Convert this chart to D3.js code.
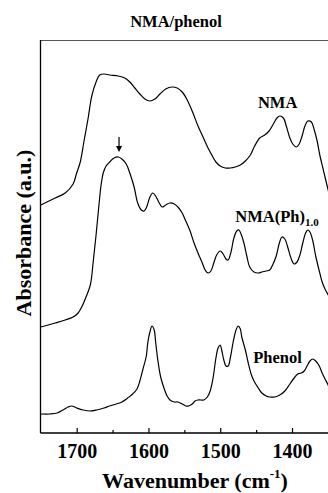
<!DOCTYPE html>
<html>
<head>
<meta charset="utf-8">
<script src="https://cdn.jsdelivr.net/npm/d3@7"></script>
<style>
html, body { margin: 0; padding: 0; background: #fff; }
svg { display: block; }
text { font-family: "Liberation Serif", "Times New Roman", serif; font-weight: bold; fill: #000; }
</style>
</head>
<body>
<svg id="chart" width="328" height="493"></svg>
<script>
// ---- Data (wavenumber in cm^-1, absorbance in arbitrary offset units) ----
const title = "NMA/phenol";
const xTicks = [1700, 1600, 1500, 1400];
const xMinorTicks = [1650, 1550, 1450];
const xDomain = [1750, 1350];
const yDomain = [0, 393];

const nmaWave = [1750,1730,1716,1705,1700,1695,1690,1684,1679,1673,1668,1662,1654,1642,1633,1626,1619,1612,1605,1598,1591,1584,1576,1567,1560,1553,1546,1538,1531,1524,1517,1511,1506,1500,1493,1486,1479,1472,1465,1458,1452,1445,1438,1432,1426,1421,1417,1412,1408,1403,1399,1394,1390,1386,1382,1378,1373,1369,1365,1361,1357,1354,1351,1348];
const nmaAbs  = [228,235,240,249,260,271,291,315,337,351,358,359,358,357,355,351,345,339,334,332,334,339,344,346,345,341,333,320,307,296,285,277,271,267,265,265,266,268,272,278,287,295,298,302,309,315,317,315,307,295,289,286,289,297,307,312,311,303,292,277,265,256,247,238];

const phWave = [1750,1730,1716,1705,1698,1693,1687,1681,1677,1673,1669,1666,1663,1659,1654,1648,1642,1637,1631,1626,1620,1615,1610,1606,1602,1598,1594,1590,1585,1581,1576,1570,1564,1559,1553,1548,1542,1537,1531,1525,1521,1517,1513,1509,1505,1500,1496,1492,1489,1485,1481,1477,1474,1471,1467,1463,1459,1453,1447,1442,1436,1431,1427,1422,1418,1414,1410,1406,1401,1397,1393,1389,1385,1381,1378,1375,1371,1367,1362,1358,1354,1351,1348];
const phAbs  = [106,110,113,116,120,126,136,148,171,198,228,248,260,267,271,275,276,274,269,260,246,230,223,222,227,236,240,237,230,226,228,230,229,226,220,212,202,191,180,170,163,160,162,170,178,182,179,174,173,181,195,202,203,199,190,177,166,161,160,161,162,163,168,177,189,196,194,186,174,169,171,178,190,200,203,201,192,177,162,151,144,140,136];

const phenolWave = [1750,1737,1727,1719,1712,1707,1700,1691,1681,1672,1662,1654,1645,1637,1629,1622,1616,1612,1608,1603,1601,1598,1595,1592,1590,1587,1583,1578,1574,1570,1564,1559,1553,1548,1544,1539,1535,1531,1527,1523,1518,1514,1510,1506,1503,1500,1498,1495,1492,1489,1486,1482,1478,1475,1472,1470,1465,1461,1457,1453,1447,1442,1436,1431,1424,1417,1410,1403,1397,1392,1387,1383,1379,1375,1371,1367,1362,1358,1354,1351,1348];
const phenolAbs  = [19,19,20,23,26,27,25,23,22,23,25,27,29,31,35,39,44,52,63,77,90,101,107,103,91,73,56,44,37,33,31,31,29,27,27,29,32,33,33,33,36,42,55,75,85,88,83,73,67,67,75,91,103,107,104,96,83,70,59,52,45,40,37,36,36,38,42,49,55,59,60,62,67,72,74,72,67,60,54,50,45];

const seriesNames = ["NMA", "NMA(Ph)", "Phenol"];
const labelSub = "1.0";
const arrowWave = 1641;
const arrowAbs = [296, 281];
const labelPos = [[1420, 325], [1479, 211], [1454, 70]];

// ---- Drawing ----
const svg = d3.select("#chart");
const M = { left: 40.5, right: 328, top: 40, bottom: 433 };
const x = d3.scaleLinear().domain(xDomain).range([40.8, 327.9]);
const y = d3.scaleLinear().domain(yDomain).range([M.bottom, M.top]);

const clip = svg.append("clipPath").attr("id", "clip")
  .append("rect").attr("x", M.left).attr("y", M.top).attr("width", 330 - M.left).attr("height", M.bottom - M.top);

// frame
svg.append("line").attr("x1", M.left).attr("x2", 330).attr("y1", M.top + 0.5).attr("y2", M.top + 0.5)
  .attr("stroke", "#555").attr("stroke-width", 1);
svg.append("line").attr("x1", M.left).attr("x2", M.left).attr("y1", M.top).attr("y2", M.bottom)
  .attr("stroke", "#000").attr("stroke-width", 1.3);

// bottom axis with inward ticks
const axis = d3.axisBottom(x).tickValues(xTicks).tickSize(-5).tickPadding(10).tickFormat(d3.format("d"));
const gx = svg.append("g").attr("transform", `translate(0,${M.bottom})`).call(axis);
gx.select(".domain").attr("stroke-width", 1.3).attr("d", `M${M.left},0H330`);
gx.selectAll(".tick line").attr("stroke-width", 1.2);
gx.selectAll(".tick text").attr("font-size", 20).attr("font-family", "Liberation Serif, serif")
  .attr("font-weight", "bold").attr("dy", "0.71em").attr("y", 11);
const axisMinor = d3.axisBottom(x).tickValues(xMinorTicks).tickSize(-3).tickFormat("");
const gm = svg.append("g").attr("transform", `translate(0,${M.bottom})`).call(axisMinor);
gm.select(".domain").remove();
gm.selectAll(".tick line").attr("stroke-width", 1.2);

// curves
const line = d3.line().x(d => x(d[0])).y(d => y(d[1])).curve(d3.curveCatmullRom.alpha(0.5));
const series = [
  d3.zip(nmaWave, nmaAbs),
  d3.zip(phWave, phAbs),
  d3.zip(phenolWave, phenolAbs)
];
svg.append("g").attr("clip-path", "url(#clip)")
  .selectAll("path").data(series).join("path")
  .attr("d", line).attr("fill", "none").attr("stroke", "#000").attr("stroke-width", 1.2);

// arrow
svg.append("line").attr("x1", x(arrowWave)).attr("x2", x(arrowWave))
  .attr("y1", y(arrowAbs[0])).attr("y2", y(arrowAbs[1]) - 5)
  .attr("stroke", "#000").attr("stroke-width", 1.2);
svg.append("path")
  .attr("d", `M${x(arrowWave) - 3},${y(arrowAbs[1]) - 6}L${x(arrowWave) + 3},${y(arrowAbs[1]) - 6}L${x(arrowWave)},${y(arrowAbs[1])}Z`)
  .attr("fill", "#000");

// labels
svg.append("text").attr("x", x(labelPos[0][0])).attr("y", y(labelPos[0][1]))
  .attr("text-anchor", "middle").attr("font-size", 16.5).text(seriesNames[0]);
const t2 = svg.append("text").attr("x", x(labelPos[1][0])).attr("y", y(labelPos[1][1])).attr("font-size", 16.5);
t2.append("tspan").text(seriesNames[1]);
t2.append("tspan").attr("font-size", 11).attr("dy", 4).text(labelSub);
svg.append("text").attr("x", x(labelPos[2][0])).attr("y", y(labelPos[2][1]))
  .attr("font-size", 16.5).text(seriesNames[2]);

// title
svg.append("text").attr("x", 176).attr("y", 27).attr("text-anchor", "middle").attr("font-size", 16.5).text(title);

// axis titles
const xt = svg.append("text").attr("x", 195).attr("y", 488).attr("text-anchor", "middle").attr("font-size", 22);
xt.append("tspan").text("Wavenumber (cm");
xt.append("tspan").attr("font-size", 13).attr("dy", -10).text("-1");
xt.append("tspan").attr("dy", 10).text(")");
svg.append("text").attr("transform", "translate(31,233) rotate(-90)").attr("text-anchor", "middle")
  .attr("font-size", 22).text("Absorbance (a.u.)");
</script>
</body>
</html>
